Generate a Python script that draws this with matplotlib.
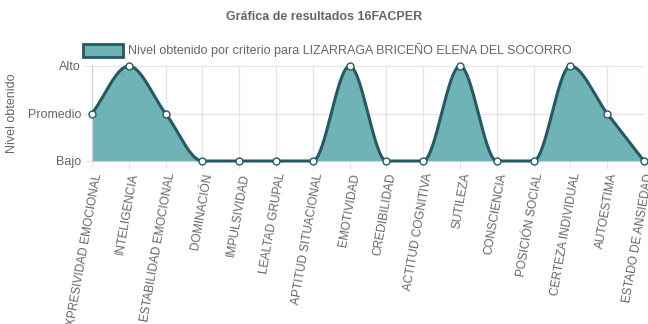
import numpy as np
import matplotlib
matplotlib.use("Agg")
import matplotlib.pyplot as plt
from matplotlib.patches import Rectangle

plt.rcParams['font.family'] = ['Liberation Sans', 'DejaVu Sans']

categories = ["EXPRESIVIDAD EMOCIONAL", "INTELIGENCIA", "ESTABILIDAD EMOCIONAL",
              "DOMINACIÓN", "IMPULSIVIDAD", "LEALTAD GRUPAL", "APTITUD SITUACIONAL",
              "EMOTIVIDAD", "CREDIBILIDAD", "ACTITUD COGNITIVA", "SUTILEZA",
              "CONSCIENCIA", "POSICIÓN SOCIAL", "CERTEZA INDIVIDUAL", "AUTOESTIMA",
              "ESTADO DE ANSIEDAD"]
values = [1, 2, 1, 0, 0, 0, 0, 2, 0, 0, 2, 0, 0, 2, 1, 0]
level_labels = ["Bajo", "Promedio", "Alto"]
title = "Gráfica de resultados 16FACPER"
series_label = "Nivel obtenido por criterio para LIZARRAGA BRICEÑO ELENA DEL SOCORRO"
y_title = "Nivel obtenido"

fill_color = '#70b3b7'
line_color = '#255a62'
text_color = '#666666'
grid_color = '#e6e6e6'


def monotone(xs, ys, n=40):
    xs = np.asarray(xs, float); ys = np.asarray(ys, float)
    N = len(xs)
    d = np.diff(ys) / np.diff(xs)
    m = np.zeros(N)
    m[0] = d[0]; m[-1] = d[-1]
    for i in range(1, N - 1):
        if d[i - 1] == 0 or d[i] == 0 or np.sign(d[i - 1]) != np.sign(d[i]):
            m[i] = 0
        else:
            m[i] = (d[i - 1] + d[i]) / 2
    for i in range(N - 1):
        if d[i] == 0:
            m[i] = m[i + 1] = 0
            continue
        a = m[i] / d[i]; b = m[i + 1] / d[i]
        s = a * a + b * b
        if s > 9:
            t = 3 / np.sqrt(s)
            m[i] = t * a * d[i]; m[i + 1] = t * b * d[i]
    X, Y = [], []
    for i in range(N - 1):
        h = xs[i + 1] - xs[i]
        t = np.linspace(0, 1, n, endpoint=(i == N - 2))
        h00 = 2 * t**3 - 3 * t**2 + 1
        h10 = t**3 - 2 * t**2 + t
        h01 = -2 * t**3 + 3 * t**2
        h11 = t**3 - t**2
        X.append(xs[i] + t * h)
        Y.append(h00 * ys[i] + h10 * h * m[i] + h01 * ys[i + 1] + h11 * h * m[i + 1])
    return np.concatenate(X), np.concatenate(Y)


fig = plt.figure(figsize=(6.48, 3.24), dpi=100)
ax = fig.add_axes([92 / 648, 1 - 161 / 324, (644 - 92) / 648, (161 - 66) / 324])

x = np.arange(len(categories))
sx, sy = monotone(x, values)
ax.fill_between(sx, 0, sy, color=fill_color, zorder=2, lw=0)
ax.plot(sx, sy, color=line_color, lw=2.2, zorder=3, solid_capstyle='round', clip_on=False)
ax.plot(x, values, 'o', ms=5, mfc='white', mec=line_color, mew=1.0, zorder=4, clip_on=False)

ax.set_xlim(0, len(categories) - 1)
ax.set_ylim(0, 2)
ax.set_yticks([0, 1, 2])
ax.set_yticklabels(level_labels, fontsize=9, color=text_color)
ax.set_xticks(x)
ax.set_xticklabels(categories, rotation=80, ha='right', va='top',
                   rotation_mode='anchor', fontsize=8.6, color=text_color)
ax.tick_params(axis='both', length=6, color=grid_color, pad=2)
ax.grid(True, color=grid_color, lw=1, zorder=0)
ax.set_axisbelow(True)
for s in ['top', 'right']:
    ax.spines[s].set_visible(False)
for s in ['left', 'bottom']:
    ax.spines[s].set_color('#d0d0d0')

fig.text(12 / 648, 1 - 113 / 324, y_title, rotation=90, ha='center', va='center',
         fontsize=9, color=text_color)
fig.text(0.5, 1 - 17 / 324, title, ha='center', va='center', fontsize=9,
         fontweight='bold', color=text_color)
fig.patches.append(Rectangle((83 / 648, 1 - 57 / 324), 40 / 648, 13 / 324,
                             transform=fig.transFigure, facecolor=fill_color,
                             edgecolor=line_color, lw=2))
fig.text(128 / 648, 1 - 50 / 324, series_label, ha='left', va='center',
         fontsize=9, color=text_color)

fig.savefig('out.png', dpi=100)
